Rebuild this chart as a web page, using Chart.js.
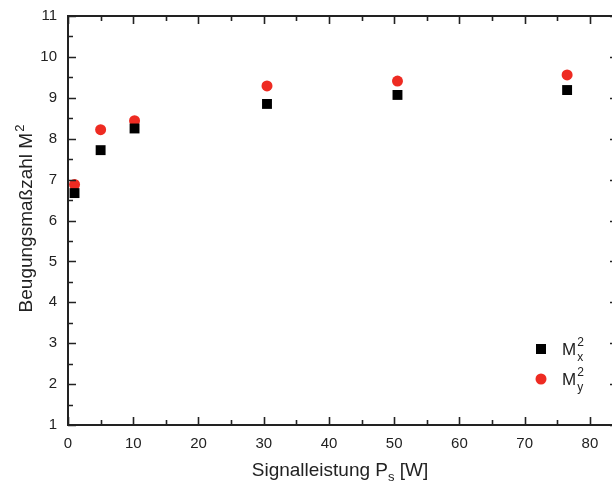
<!DOCTYPE html>
<html><head><meta charset="utf-8">
<script src="https://cdn.jsdelivr.net/npm/chart.js@4"></script>
<style>html,body{margin:0;padding:0;background:#fff;overflow:hidden}#wrap{width:612px;height:486px;overflow:hidden}#c{width:625px;height:486px;max-width:none}</style>
</head><body><div id="wrap"><canvas id="c" width="625" height="486"></canvas></div>
<script>
const power = [1, 5, 10.2, 30.5, 50.5, 76.5];
const m2x = [6.67, 7.72, 8.25, 8.85, 9.07, 9.19];
const m2y = [6.88, 8.22, 8.44, 9.29, 9.41, 9.56];
const xTicks = [0, 10, 20, 30, 40, 50, 60, 70, 80];
const yTicks = [1, 2, 3, 4, 5, 6, 7, 8, 9, 10, 11];

const FONT = '"Liberation Sans", Arial, sans-serif';
const INK = '#222';

const framePlugin = {
  id: 'frame',
  afterDraw(chart) {
    const {ctx, chartArea: a, scales: {x, y}} = chart;
    ctx.save();
    ctx.strokeStyle = INK;
    ctx.lineWidth = 2;
    ctx.strokeRect(a.left, a.top, a.right - a.left, a.bottom - a.top);
    ctx.lineWidth = 1.6;
    ctx.beginPath();
    for (let v = 0; v <= x.max; v += 5) {
      const px = Math.round(x.getPixelForValue(v)) + 0.5;
      const len = (v % 10 === 0) ? 8 : 5;
      ctx.moveTo(px, a.bottom); ctx.lineTo(px, a.bottom - len);
      ctx.moveTo(px, a.top); ctx.lineTo(px, a.top + len);
    }
    for (let v = 1; v <= 11; v += 0.5) {
      const py = Math.round(y.getPixelForValue(v)) + 0.5;
      const len = (Number.isInteger(v)) ? 8 : 5;
      ctx.moveTo(a.left, py); ctx.lineTo(a.left + len, py);
      ctx.moveTo(a.right, py); ctx.lineTo(a.right - len, py);
    }
    ctx.stroke();

    ctx.fillStyle = INK;
    ctx.textBaseline = 'alphabetic';
    const big = '19px ' + FONT, small = '13px ' + FONT;
    ctx.font = big;
    const t1 = 'Signalleistung P', t3 = ' [W]';
    const w1 = ctx.measureText(t1).width, w3 = ctx.measureText(t3).width;
    ctx.font = small;
    const w2 = ctx.measureText('s').width;
    const total = w1 + w2 + w3;
    let sx = 340 - total / 2;
    const by = 476;
    ctx.font = big; ctx.textAlign = 'left';
    ctx.fillText(t1, sx, by);
    ctx.font = small; ctx.fillText('s', sx + w1, by + 5);
    ctx.font = big; ctx.fillText(t3, sx + w1 + w2, by);

    ctx.save();
    ctx.translate(32, 219);
    ctx.rotate(-Math.PI / 2);
    ctx.font = big;
    const yt = 'Beugungsmaßzahl M';
    const wy = ctx.measureText(yt).width;
    ctx.font = small;
    const ws = ctx.measureText('2').width;
    const st = -(wy + ws) / 2;
    ctx.font = big; ctx.fillText(yt, st, 0);
    ctx.font = small; ctx.fillText('2', st + wy + 1, -8);
    ctx.restore();

    const items = [
      {ds: 0, sub: 'x', y: 349},
      {ds: 1, sub: 'y', y: 379}
    ];
    items.forEach(it => {
      const d = chart.data.datasets[it.ds];
      ctx.fillStyle = d.backgroundColor;
      ctx.beginPath();
      if (d.pointStyle === 'rect') {
        ctx.rect(536, it.y - 5, 10, 10);
      } else {
        ctx.arc(541, it.y, 5.5, 0, Math.PI * 2);
      }
      ctx.fill();
      ctx.fillStyle = INK;
      ctx.font = '17px ' + FONT;
      ctx.textAlign = 'left';
      ctx.fillText('M', 562, it.y + 6);
      const mw = ctx.measureText('M').width;
      ctx.font = '12px ' + FONT;
      ctx.fillText('2', 562 + mw + 1, it.y - 3);
      ctx.fillText(it.sub, 562 + mw + 1, it.y + 12);
    });
    ctx.restore();
  }
};

new Chart(document.getElementById('c'), {
  type: 'scatter',
  data: {
    datasets: [
      {label: 'M2x', data: power.map((p, i) => ({x: p, y: m2x[i]})), pointStyle: 'rect', pointRadius: 7, backgroundColor: '#000', borderColor: '#000', borderWidth: 0},
      {label: 'M2y', data: power.map((p, i) => ({x: p, y: m2y[i]})), pointStyle: 'circle', pointRadius: 5.5, backgroundColor: '#ee2b22', borderColor: '#ee2b22', borderWidth: 0}
    ]
  },
  options: {
    responsive: false,
    animation: false,
    layout: {padding: {top: 16, right: 2, left: 0, bottom: 0}},
    plugins: {legend: {display: false}, tooltip: {enabled: false}},
    scales: {
      x: {
        type: 'linear', min: 0, max: 84.3,
        grid: {display: false, drawTicks: false},
        border: {display: false},
        afterBuildTicks: s => { s.ticks = xTicks.map(v => ({value: v})); },
        afterFit: s => { s.height = 61; s.paddingLeft = 0; s.paddingRight = 0; },
        ticks: {padding: 10, color: INK, font: {family: FONT, size: 15}, maxRotation: 0}
      },
      y: {
        type: 'linear', min: 1, max: 11,
        grid: {display: false, drawTicks: false},
        border: {display: false},
        afterBuildTicks: s => { s.ticks = yTicks.map(v => ({value: v})); },
        afterFit: s => { s.width = 68; s.paddingTop = 0; s.paddingBottom = 0; },
        ticks: {padding: 11, color: INK, font: {family: FONT, size: 15}}
      }
    }
  },
  plugins: [framePlugin]
});
</script>
</body></html>
